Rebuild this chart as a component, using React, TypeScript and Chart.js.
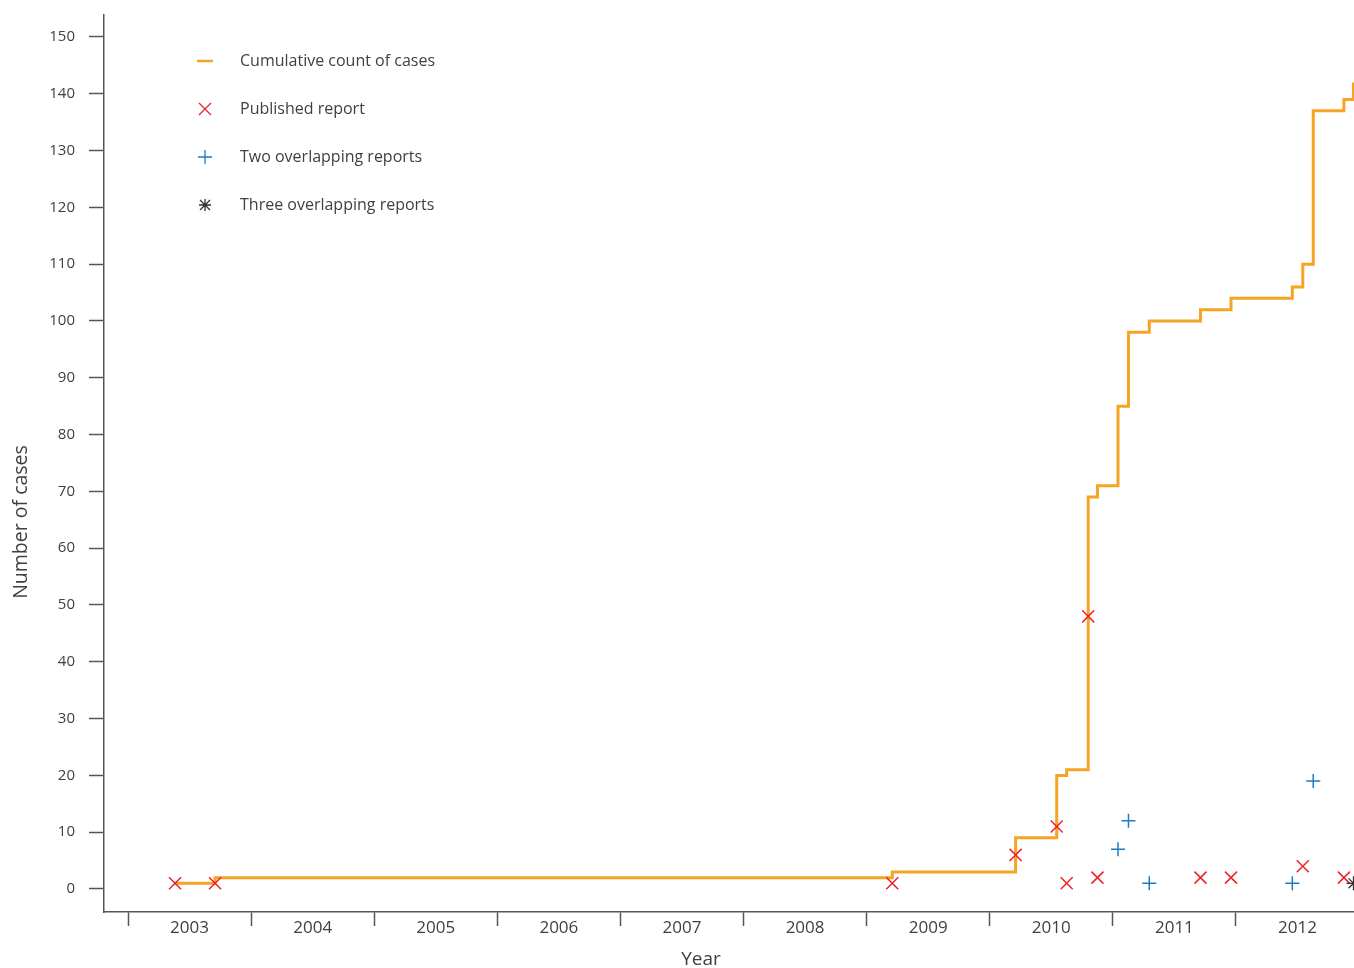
import React, { useEffect, useRef } from 'react';
import { Chart, registerables } from 'chart.js';

Chart.register(...registerables);

// ---- Data ----
const yearTicks = [2003, 2004, 2005, 2006, 2007, 2008, 2009, 2010, 2011, 2012];
const yearLabels = ['2003', '2004', '2005', '2006', '2007', '2008', '2009', '2010', '2011', '2012'];
const yTickValues = [0, 10, 20, 30, 40, 50, 60, 70, 80, 90, 100, 110, 120, 130, 140, 150];

// Cumulative count of cases (step changes, decimal years)
const stepDates = [2003.382, 2003.707, 2009.208, 2010.21, 2010.544, 2010.625, 2010.8, 2010.875, 2011.042, 2011.042, 2011.127, 2011.127, 2011.296, 2011.712, 2011.96, 2012.458, 2012.543, 2012.628, 2012.628, 2012.877, 2012.955];
const cumulativeCases = [1, 2, 3, 9, 20, 21, 69, 71, 78, 85, 97, 98, 100, 102, 104, 106, 110, 129, 137, 139, 142];

// Published report (single)
const publishedDates = [2003.382, 2003.707, 2009.208, 2010.21, 2010.544, 2010.625, 2010.8, 2010.875, 2011.712, 2011.96, 2012.543, 2012.877];
const publishedValues = [1, 1, 1, 6, 11, 1, 48, 2, 2, 2, 4, 2];

// Two overlapping reports
const twoDates = [2011.042, 2011.127, 2011.296, 2012.458, 2012.628];
const twoValues = [7, 12, 1, 1, 19];

// Three overlapping reports
const threeDates = [2012.955];
const threeValues = [1];

const legendLabels = ['Cumulative count of cases', 'Published report', 'Two overlapping reports', 'Three overlapping reports'];

const ORANGE = '#F7A325';
const RED = '#EC2229';
const BLUE = '#1F7AC0';
const DARK = '#333333';
const TEXT = '#3f3f3f';
const AXIS = '#555555';
const FONT = '"Open Sans", "Noto Sans", sans-serif';

const X_MIN = 2002.805;
const X_MAX = 2012.959;
const Y_MIN = -4.05;
const Y_MAX = 153.87;

const pts = (xs: number[], ys: number[]) => xs.map((x, i) => ({ x, y: ys[i] }));

const zeroPad = (s: any) => {
  s.paddingLeft = 0;
  s.paddingRight = 0;
  s.paddingTop = 0;
  s.paddingBottom = 0;
};

const overlayPlugin = {
  id: 'overlay',
  afterDraw(chart: any) {
    const ctx = chart.ctx as CanvasRenderingContext2D;
    ctx.save();
    // Axis titles
    ctx.fillStyle = TEXT;
    ctx.font = `19px ${FONT}`;
    ctx.textAlign = 'center';
    ctx.textBaseline = 'middle';
    ctx.fillText('Year', 701, 960);
    ctx.save();
    ctx.translate(21, 522);
    ctx.rotate(-Math.PI / 2);
    ctx.font = `19.5px ${FONT}`;
    ctx.fillText('Number of cases', 0, 0);
    ctx.restore();

    // Legend
    const sx = 205;
    const tx = 240;
    const rows = [61, 109, 157, 205];
    ctx.lineCap = 'butt';
    ctx.strokeStyle = ORANGE;
    ctx.lineWidth = 2.5;
    ctx.beginPath();
    ctx.moveTo(197, rows[0]);
    ctx.lineTo(213, rows[0]);
    ctx.stroke();
    ctx.strokeStyle = RED;
    ctx.lineWidth = 1.3;
    ctx.beginPath();
    ctx.moveTo(sx - 6, rows[1] - 6); ctx.lineTo(sx + 6, rows[1] + 6);
    ctx.moveTo(sx - 6, rows[1] + 6); ctx.lineTo(sx + 6, rows[1] - 6);
    ctx.stroke();
    ctx.strokeStyle = BLUE;
    ctx.beginPath();
    ctx.moveTo(sx - 7, rows[2]); ctx.lineTo(sx + 7, rows[2]);
    ctx.moveTo(sx, rows[2] - 7); ctx.lineTo(sx, rows[2] + 7);
    ctx.stroke();
    ctx.strokeStyle = DARK;
    ctx.beginPath();
    ctx.moveTo(sx - 6, rows[3]); ctx.lineTo(sx + 6, rows[3]);
    ctx.moveTo(sx, rows[3] - 6); ctx.lineTo(sx, rows[3] + 6);
    ctx.moveTo(sx - 5, rows[3] - 5); ctx.lineTo(sx + 5, rows[3] + 5);
    ctx.moveTo(sx - 5, rows[3] + 5); ctx.lineTo(sx + 5, rows[3] - 5);
    ctx.stroke();
    ctx.fillStyle = TEXT;
    ctx.font = `16px ${FONT}`;
    ctx.textAlign = 'left';
    legendLabels.forEach((l, i) => ctx.fillText(l, tx, rows[i]));
    ctx.restore();
  },
};

export default function App() {
  const ref = useRef<HTMLCanvasElement>(null);
  useEffect(() => {
    document.body.style.margin = '0';
    const xTickValues: number[] = [];
    yearTicks.forEach((y) => { xTickValues.push(y); xTickValues.push(y + 0.5); });
    const chart = new Chart(ref.current as HTMLCanvasElement, {
      type: 'scatter',
      data: {
        datasets: [
          {
            label: legendLabels[3],
            data: pts(threeDates, threeValues),
            pointStyle: 'star',
            pointRadius: 7,
            pointBorderColor: DARK,
            pointBackgroundColor: DARK,
            pointBorderWidth: 1.3,
            showLine: false,
          },
          {
            label: legendLabels[2],
            data: pts(twoDates, twoValues),
            pointStyle: 'cross',
            pointRadius: 7,
            pointBorderColor: BLUE,
            pointBackgroundColor: BLUE,
            pointBorderWidth: 1.5,
            showLine: false,
          },
          {
            label: legendLabels[1],
            data: pts(publishedDates, publishedValues),
            pointStyle: 'crossRot',
            pointRadius: 8.5,
            pointBorderColor: RED,
            pointBackgroundColor: RED,
            pointBorderWidth: 1.5,
            showLine: false,
          },
          {
            label: legendLabels[0],
            data: pts(stepDates, cumulativeCases),
            showLine: true,
            stepped: true,
            borderColor: ORANGE,
            borderWidth: 3,
            pointRadius: 0,
            fill: false,
          } as any,
        ],
      },
      options: {
        animation: false,
        responsive: false,
        devicePixelRatio: 1,
        layout: { autoPadding: false, padding: { top: 15, right: 0, left: 0, bottom: 0 } },
        plugins: { legend: { display: false }, tooltip: { enabled: false } },
        scales: {
          x: {
            type: 'linear',
            min: X_MIN,
            max: X_MAX,
            afterBuildTicks: (s: any) => { s.ticks = xTickValues.map((v) => ({ value: v })); },
            afterFit: (s: any) => { s.height = 56; zeroPad(s); },
            grid: {
              drawOnChartArea: false,
              drawTicks: true,
              tickLength: 14,
              tickWidth: 1.5,
              tickColor: (c: any) => (c.tick && Math.abs(c.tick.value - Math.round(c.tick.value)) < 1e-6 ? AXIS : 'rgba(0,0,0,0)'),
            },
            border: { color: AXIS, width: 1.5 },
            ticks: {
              autoSkip: false,
              maxRotation: 0,
              minRotation: 0,
              padding: -8,
              color: TEXT,
              font: { family: FONT, size: 17 },
              callback: (v: any) => {
                const n = Number(v);
                if (Math.abs(n - Math.round(n)) < 1e-6) return '';
                const idx = yearTicks.indexOf(Math.floor(n));
                return idx >= 0 ? yearLabels[idx] : '';
              },
            },
          },
          y: {
            type: 'linear',
            min: Y_MIN,
            max: Y_MAX,
            afterBuildTicks: (s: any) => { s.ticks = yTickValues.map((v) => ({ value: v })); },
            afterFit: (s: any) => { s.width = 104; zeroPad(s); },
            grid: { drawOnChartArea: false, drawTicks: true, tickLength: 15, tickWidth: 1.5, tickColor: AXIS },
            border: { color: AXIS, width: 1.5 },
            ticks: {
              padding: 14,
              color: TEXT,
              font: { family: FONT, size: 15 },
              callback: (v: any) => String(v),
            },
          },
        },
      },
      plugins: [overlayPlugin],
    });
    return () => chart.destroy();
  }, []);
  return <canvas ref={ref} width={1354} height={968} style={{ display: 'block', width: 1354, height: 968 }} />;
}
